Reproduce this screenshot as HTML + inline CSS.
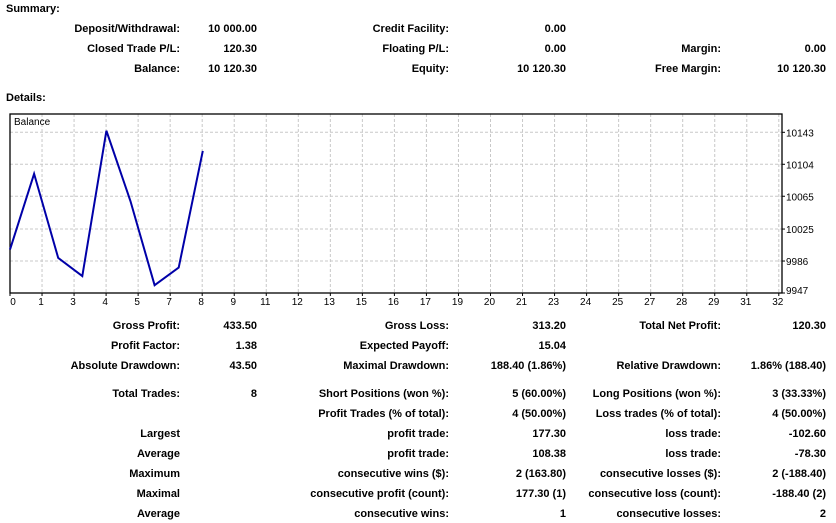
<!DOCTYPE html>
<html><head><meta charset="utf-8">
<style>
body{margin:0;width:836px;height:523px;background:#fff;font-family:"Liberation Sans",sans-serif;font-weight:bold;font-size:11px;color:#000;position:relative;overflow:hidden}
.t{position:absolute;white-space:nowrap;line-height:14px}
.r{text-align:right}
svg{position:absolute;left:0;top:0}
svg text{font-family:"Liberation Sans",sans-serif;font-size:10px;font-weight:normal}
</style></head>
<body>
<div class="t" style="left:6px;top:2px">Summary:</div>
<div class="t" style="left:6px;top:91px">Details:</div>
<svg width="836" height="523" id="chart"></svg>
<div id="stats"></div>
<script>
const tradeIdx=[0,1,2,3,4,5,6,7,8];
const balance=[10000,10092.4,9989.8,9967.6,10144.9,10058.9,9956.5,9978.0,10120.3];
const yTicks=[9947,9986,10025,10065,10104,10143];
const xTickLabels=[0,1,3,4,5,7,8,9,11,12,13,15,16,17,19,20,21,23,24,25,27,28,29,31,32];
const L=10,R=782,T=114,B=293,Y0=9947,Y1=10143,YT=132.3;
function xs(t){return L+t*24.1;}
function ys(v){return B-(v-Y0)*(B-YT)/(Y1-Y0);}
const NS='http://www.w3.org/2000/svg';
const svg=document.getElementById('chart');
function mk(tag,attrs){const e=document.createElementNS(NS,tag);for(const k in attrs)e.setAttribute(k,attrs[k]);svg.appendChild(e);return e;}
const bg=mk('rect',{x:L,y:T,width:R-L,height:B-T,fill:'#fff'});


for(let k=1;k<xTickLabels.length;k++){const x=L+k*(R-L)/24.1;if(x>=R)break;
const g=mk('line',{x1:x,y1:T,x2:x,y2:B,stroke:'#c8c8c8','stroke-dasharray':'3,2'});

}
yTicks.forEach((v,i)=>{const y=ys(v);
if(i>0){const g=mk('line',{x1:L,y1:y,x2:R,y2:y,stroke:'#c8c8c8','stroke-dasharray':'3,2'});

}
const tk=mk('line',{x1:R,y1:y,x2:R+3,y2:y,stroke:'#000'});


const t=mk('text',{x:R+4,y:Math.min(y+4,B+1)});t.textContent=v;

});
xTickLabels.forEach((v,k)=>{const x=L+k*(R-L)/24.1;
const t=mk('text',{x:k===0?x+3:x-1,y:B+12,'text-anchor':'middle'});t.textContent=v;


const tk=mk('line',{x1:x,y1:B,x2:x,y2:B+3,stroke:'#000'});

});
const fr=mk('rect',{x:L,y:T,width:R-L,height:B-T,fill:'none',stroke:'#000','stroke-width':1.3});


const ln=mk('polyline',{points:tradeIdx.map((t,i)=>xs(t)+','+ys(balance[i])).join(' '),fill:'none',stroke:'#0000a8','stroke-width':2});


const lt=mk('text',{x:L+4,y:T+11});lt.textContent='Balance';



const cols=[[180,257],[449,566],[721,826]];
const rows=[
[29,[['Deposit/Withdrawal:','10 000.00'],['Credit Facility:','0.00'],null]],
[49,[['Closed Trade P/L:','120.30'],['Floating P/L:','0.00'],['Margin:','0.00']]],
[69,[['Balance:','10 120.30'],['Equity:','10 120.30'],['Free Margin:','10 120.30']]],
[326,[['Gross Profit:','433.50'],['Gross Loss:','313.20'],['Total Net Profit:','120.30']]],
[346,[['Profit Factor:','1.38'],['Expected Payoff:','15.04'],null]],
[366,[['Absolute Drawdown:','43.50'],['Maximal Drawdown:','188.40 (1.86%)'],['Relative Drawdown:','1.86% (188.40)']]],
[394,[['Total Trades:','8'],['Short Positions (won %):','5 (60.00%)'],['Long Positions (won %):','3 (33.33%)']]],
[414,[null,['Profit Trades (% of total):','4 (50.00%)'],['Loss trades (% of total):','4 (50.00%)']]],
[434,[['Largest',''],['profit trade:','177.30'],['loss trade:','-102.60']]],
[454,[['Average',''],['profit trade:','108.38'],['loss trade:','-78.30']]],
[474,[['Maximum',''],['consecutive wins ($):','2 (163.80)'],['consecutive losses ($):','2 (-188.40)']]],
[494,[['Maximal',''],['consecutive profit (count):','177.30 (1)'],['consecutive loss (count):','-188.40 (2)']]],
[514,[['Average',''],['consecutive wins:','1'],['consecutive losses:','2']]]];
const st=document.getElementById('stats');
rows.forEach(([y,cells])=>{cells.forEach((c,ci)=>{if(!c)return;
const a=document.createElement('div');a.className='t r';a.style.top=(y-7)+'px';a.style.right=(836-cols[ci][0])+'px';a.textContent=c[0];


st.appendChild(a);
if(c[1]!==''){const b=document.createElement('div');b.className='t r';b.style.top=(y-7)+'px';b.style.right=(836-cols[ci][1])+'px';b.textContent=c[1];


st.appendChild(b);}});});
</script>
</body></html>
